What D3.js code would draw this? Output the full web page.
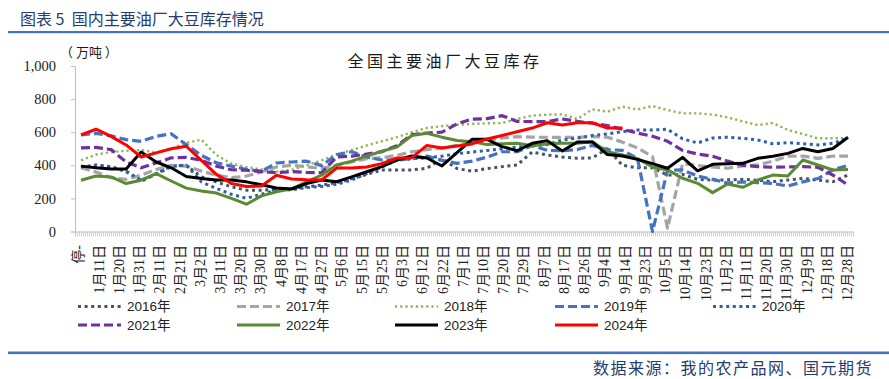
<!DOCTYPE html>
<html><head><meta charset="utf-8">
<script src="https://cdn.jsdelivr.net/npm/d3@7"></script>
<style>body{margin:0;background:#fff;}svg{display:block;}text{white-space:pre;}</style>
</head><body>
<svg id="chart" width="889" height="379"></svg>
<script>
// ---- data ----
const categories = ["停-","1月11日","1月20日","1月31日","2月11日","2月21日","3月2日","3月11日","3月20日","3月30日","4月8日","4月17日","4月27日","5月6日","5月15日","5月25日","6月3日","6月12日","6月22日","7月1日","7月10日","7月20日","7月29日","8月7日","8月17日","8月26日","9月4日","9月14日","9月23日","10月5日","10月14日","10月23日","11月2日","11月11日","11月20日","11月30日","12月9日","12月18日","12月28日"];
const yTicks = [0,200,400,600,800,1000];
const seriesNames = ["2016年","2017年","2018年","2019年","2020年","2021年","2022年","2023年","2024年"];
const s2016 = [385,402,392,362,302,350,395,400,330,300,270,250,250,255,260,270,280,295,320,345,372,372,372,382,440,380,365,380,392,402,480,462,450,442,445,500,400,385,385,341,345,315,311,312,315,310,301,311,321,310,301,341];
const s2017 = [385,360,325,315,340,375,400,395,365,340,325,335,360,390,400,392,380,400,420,440,445,460,482,495,505,520,540,553,565,573,570,569,569,569,573,570,540,505,452,20,410,398,390,382,396,402,425,456,456,442,456,456];
const s2018 = [430,465,480,488,492,478,500,535,555,462,410,390,375,362,372,400,430,465,492,520,545,570,600,625,637,645,650,654,655,680,700,706,708,680,738,724,754,738,758,734,714,714,706,690,665,643,655,613,589,563,563,563];
const s2019 = [583,593,578,555,545,575,590,525,460,415,395,375,365,414,420,425,398,465,482,450,432,432,440,456,430,412,425,450,482,482,520,490,488,495,520,495,490,442,0,370,372,335,315,292,300,295,290,275,300,320,372,400];
const s2020 = [390,400,390,365,310,345,392,402,300,260,225,201,225,250,252,265,272,285,311,350,390,430,440,445,455,470,480,490,500,510,518,525,553,565,580,590,603,613,613,618,560,535,565,570,563,553,530,537,530,523,533,563];
const s2021 = [505,508,495,420,385,415,445,448,430,395,373,370,362,355,362,357,355,450,455,468,482,518,585,595,600,650,679,682,700,665,664,664,680,665,654,640,618,595,575,545,490,468,455,425,400,392,388,390,392,388,341,281];
const s2022 = [310,335,330,290,310,350,305,262,245,232,200,165,215,240,258,300,340,402,425,455,485,510,580,593,570,550,543,525,530,533,518,530,533,533,543,482,462,440,390,372,322,291,235,287,267,311,341,335,432,402,372,375];
const s2023 = [395,385,378,378,480,420,385,332,320,311,311,300,282,263,257,290,311,301,330,361,392,432,456,444,396,476,557,557,513,488,533,549,486,541,541,465,456,436,410,382,448,367,406,410,412,442,455,472,502,482,502,569];
const s2024 = [584,618,575,523,450,475,500,515,430,345,290,272,275,340,317,312,311,383,383,390,410,444,446,520,505,517,529,559,580,603,625,657,643,657,657,625,625];
const seriesValues = [s2016,s2017,s2018,s2019,s2020,s2021,s2022,s2023,s2024];

// ---- styles ----
const styles = [
  {color:"#44546A", width:3,   dash:"3 3.6"},
  {color:"#A5A5A5", width:3.2, dash:"9 4"},
  {color:"#8DB84A", width:2.4, dash:"2.2 3"},
  {color:"#4472C4", width:3.2, dash:"9 4"},
  {color:"#2E5FA8", width:3,   dash:"3 3.6"},
  {color:"#7030A0", width:3.2, dash:"9 4"},
  {color:"#5A8A32", width:3,   dash:null},
  {color:"#000000", width:3,   dash:null},
  {color:"#FF0000", width:3,   dash:null}
];

const svg = d3.select("#chart");
svg.append("rect").attr("width",889).attr("height",379).attr("fill","#fff");

// header
svg.append("text").attr("x",20).attr("y",25)
  .attr("font-family","'Noto Sans CJK SC','Noto Sans',sans-serif").attr("font-size",16)
  .attr("fill","#263c6e").text("图表 5  国内主要油厂大豆库存情况");
svg.append("rect").attr("x",8).attr("y",31).attr("width",881).attr("height",2.2).attr("fill","#4472C4");

// footer
svg.append("rect").attr("x",8).attr("y",351.5).attr("width",881).attr("height",2.6).attr("fill","#4472C4");
svg.append("text").attr("x",873).attr("y",374).attr("text-anchor","end")
  .attr("font-family","'Noto Sans CJK SC',sans-serif").attr("font-size",16).attr("letter-spacing",1.5)
  .attr("fill","#263c6e").text("数据来源：我的农产品网、国元期货");

// chart title
svg.append("text").attr("x",445).attr("y",67).attr("text-anchor","middle")
  .attr("font-family","'Noto Sans CJK SC',serif").attr("font-size",16).attr("letter-spacing",3.5)
  .attr("fill","#1a1a1a").text("全国主要油厂大豆库存");

// unit
svg.append("text").attr("x",60).attr("y",57)
  .attr("font-family","'Noto Sans CJK SC',serif").attr("font-size",13)
  .attr("fill","#1a1a1a").text("（ 万吨 ）");

// scales
const x = d3.scaleLinear().domain([0,51]).range([81,848]);
const xc = d3.scalePoint().domain(categories).range([78,846.7]);
const y = d3.scaleLinear().domain([0,1000]).range([231.5,66]);

// y axis
const yAxis = svg.append("g").attr("transform","translate(75,0)")
  .call(d3.axisLeft(y).tickValues(yTicks).tickFormat(d3.format(",")).tickSize(4).tickPadding(15));
yAxis.select(".domain").attr("stroke","#BFBFBF");
yAxis.selectAll(".tick line").attr("stroke","#BFBFBF");
yAxis.selectAll(".tick text").attr("font-family","'Liberation Serif',serif").attr("font-size",14.5).attr("fill","#222");

// x axis: dense minor ticks
const xMinor = d3.scaleLinear().domain([0,389]).range([75,853]);
const xAxis = svg.append("g").attr("transform","translate(0,231.5)")
  .call(d3.axisBottom(xMinor).tickValues(d3.range(0,390)).tickSize(5).tickFormat(""));
xAxis.select(".domain").attr("stroke","#BFBFBF");
xAxis.selectAll(".tick line").attr("stroke","#C8C8C8").attr("stroke-width",0.8);

// x labels
const xl = svg.append("g").attr("transform","translate(0,245)")
  .call(d3.axisBottom(xc).tickSize(0).tickPadding(0));
xl.select(".domain").remove();
xl.selectAll(".tick text")
  .attr("transform","rotate(-90)")
  .attr("x",0).attr("y",0).attr("dy","0.35em")
  .attr("text-anchor","end")
  .attr("font-family","'Liberation Serif','Noto Sans CJK SC',serif").attr("font-size",14)
  .attr("fill","#222");

// lines
const line = d3.line().x((d,i)=>x(i)).y(d=>y(d));
const plot = svg.append("g");
seriesValues.forEach((vals,k)=>{
  const st = styles[k];
  plot.append("path").datum(vals).attr("d",line)
    .attr("fill","none").attr("stroke",st.color).attr("stroke-width",st.width)
    .attr("stroke-dasharray",st.dash).attr("stroke-linejoin","round");
});

// legend
const legX = [78,237,395,555,713];
const legY = [306.5,325];
const lg = svg.append("g");
seriesNames.forEach((name,k)=>{
  const st = styles[k];
  const cx = legX[k%5], cy = legY[Math.floor(k/5)];
  lg.append("line").attr("x1",cx).attr("x2",cx+43).attr("y1",cy).attr("y2",cy)
    .attr("stroke",st.color).attr("stroke-width",st.width).attr("stroke-dasharray",st.dash);
  lg.append("text").attr("x",cx+49).attr("y",cy).attr("dy","0.36em")
    .attr("font-family","'Liberation Sans','Noto Sans CJK SC',sans-serif").attr("font-size",13.5)
    .attr("fill","#222").text(name);
});
</script>
</body></html>
